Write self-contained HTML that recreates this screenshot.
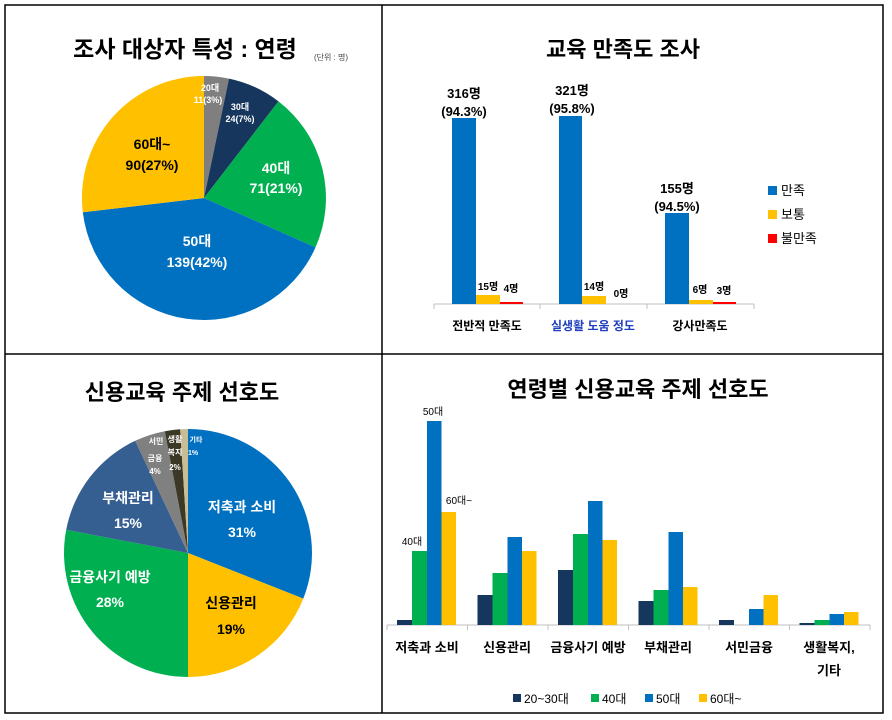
<!DOCTYPE html>
<html><head><meta charset="utf-8"><style>
body{margin:0;background:#fff;}
svg{display:block;font-family:"Liberation Sans","Noto Sans CJK KR",sans-serif;}
</style></head><body>
<svg width="892" height="720" viewBox="0 0 892 720">
<rect x="0" y="0" width="892" height="720" fill="#fff"/>
<rect x="5" y="5" width="878" height="708" fill="none" stroke="#000" stroke-width="1.5"/>
<line x1="382" y1="5" x2="382" y2="713" stroke="#000" stroke-width="1.5"/>
<line x1="5" y1="354" x2="883" y2="354" stroke="#000" stroke-width="1.5"/>

<!-- Chart 1 -->
<text x="185" y="57" font-size="23" font-weight="bold" text-anchor="middle">조사 대상자 특성 : 연령</text>
<text x="331" y="60" font-size="8" fill="#444" text-anchor="middle">(단위 : 명)</text>
<path d="M204,198 L204,76 A122,122 0 0 1 229,78.6 Z" fill="#7f7f7f"/>
<path d="M204,198 L229,78.6 A122,122 0 0 1 278.5,101.4 Z" fill="#17365d"/>
<path d="M204,198 L278.5,101.4 A122,122 0 0 1 315.5,247.4 Z" fill="#00b050"/>
<path d="M204,198 L315.5,247.4 A122,122 0 0 1 82.8,212.3 Z" fill="#0070c0"/>
<path d="M204,198 L82.8,212.3 A122,122 0 0 1 204,76 Z" fill="#ffc000"/>
<g fill="#fff" font-weight="bold" text-anchor="middle">
<text x="210" y="91" font-size="9">20대</text>
<text x="208" y="103" font-size="9">11(3%)</text>
<text x="240" y="110" font-size="9">30대</text>
<text x="240" y="122" font-size="9">24(7%)</text>
<text x="276" y="173" font-size="14">40대</text>
<text x="276" y="193" font-size="14">71(21%)</text>
<text x="197" y="246" font-size="14">50대</text>
<text x="197" y="267" font-size="14">139(42%)</text>
</g>
<g fill="#000" font-weight="bold" text-anchor="middle" font-size="14">
<text x="152" y="149">60대~</text>
<text x="152" y="170">90(27%)</text>
</g>

<!-- Chart 2 -->
<text x="623" y="57" font-size="22" font-weight="bold" text-anchor="middle">교육 만족도 조사</text>
<line x1="434" y1="304" x2="754" y2="304" stroke="#bfbfbf" stroke-width="1"/>
<g stroke="#bfbfbf"><line x1="434" y1="304" x2="434" y2="309"/><line x1="540" y1="304" x2="540" y2="309"/><line x1="647" y1="304" x2="647" y2="309"/><line x1="754" y1="304" x2="754" y2="309"/></g>
<rect x="452" y="118" width="24" height="186" fill="#0070c0"/>
<rect x="476" y="295" width="24" height="9" fill="#ffc000"/>
<rect x="500" y="302" width="23" height="2" fill="#ff0000"/>
<rect x="559" y="116" width="23" height="188" fill="#0070c0"/>
<rect x="582" y="296" width="24" height="8" fill="#ffc000"/>
<rect x="665" y="213" width="24" height="91" fill="#0070c0"/>
<rect x="689" y="300" width="24" height="4" fill="#ffc000"/>
<rect x="713" y="302" width="23" height="2" fill="#ff0000"/>
<g font-weight="bold" font-size="13" text-anchor="middle">
<text x="464" y="98">316명</text><text x="464" y="116">(94.3%)</text>
<text x="572" y="95">321명</text><text x="572" y="113">(95.8%)</text>
<text x="677" y="193">155명</text><text x="677" y="211">(94.5%)</text>
</g>
<g font-weight="bold" font-size="10" text-anchor="middle">
<text x="488" y="290">15명</text><text x="511" y="292">4명</text>
<text x="594" y="290">14명</text><text x="621" y="297">0명</text>
<text x="700" y="293">6명</text><text x="724" y="294">3명</text>
</g>
<g font-weight="bold" font-size="12" text-anchor="middle">
<text x="487" y="330">전반적 만족도</text>
<text x="593" y="330" fill="#1f3fbf">실생활 도움 정도</text>
<text x="700" y="330">강사만족도</text>
</g>
<rect x="768" y="186" width="9" height="9" fill="#0070c0"/>
<rect x="768" y="210" width="9" height="9" fill="#ffc000"/>
<rect x="768" y="234" width="9" height="9" fill="#ff0000"/>
<g font-size="13"><text x="781" y="195">만족</text><text x="781" y="219">보통</text><text x="781" y="243">불만족</text></g>

<!-- Chart 3 -->
<text x="182" y="400" font-size="22" font-weight="bold" text-anchor="middle">신용교육 주제 선호도</text>
<path d="M188,553 L188,429 A124,124 0 0 1 303.3,598.6 Z" fill="#0070c0"/>
<path d="M188,553 L303.3,598.6 A124,124 0 0 1 188,677 Z" fill="#ffc000"/>
<path d="M188,553 L188,677 A124,124 0 0 1 66.2,529.8 Z" fill="#00b050"/>
<path d="M188,553 L66.2,529.8 A124,124 0 0 1 135.2,440.8 Z" fill="#365f91"/>
<path d="M188,553 L135.2,440.8 A124,124 0 0 1 164.8,431.2 Z" fill="#808080"/>
<path d="M188,553 L164.8,431.2 A124,124 0 0 1 180.2,429.2 Z" fill="#3b3826"/>
<path d="M188,553 L180.2,429.2 A124,124 0 0 1 188,429 Z" fill="#c9bd95"/>
<g fill="#fff" font-weight="bold" text-anchor="middle">
<text x="242" y="512" font-size="14">저축과 소비</text>
<text x="242" y="537" font-size="14">31%</text>
<text x="110" y="582" font-size="14">금융사기 예방</text>
<text x="110" y="607" font-size="14">28%</text>
<text x="128" y="503" font-size="14">부채관리</text>
<text x="128" y="528" font-size="14">15%</text>
<text x="156" y="444" font-size="8">서민</text>
<text x="155" y="461" font-size="8">금융</text>
<text x="155" y="474" font-size="8">4%</text>
<text x="175" y="442" font-size="8">생활</text>
<text x="175" y="455" font-size="8">복지</text>
<text x="175" y="470" font-size="8">2%</text>
<text x="196" y="442" font-size="7">기타</text>
<text x="193" y="455" font-size="7">1%</text>
</g>
<g fill="#000" font-weight="bold" text-anchor="middle" font-size="14">
<text x="231" y="608">신용관리</text>
<text x="231" y="634">19%</text>
</g>

<!-- Chart 4 -->
<text x="638" y="397" font-size="22" font-weight="bold" text-anchor="middle">연령별 신용교육 주제 선호도</text>
<line x1="387" y1="625" x2="870" y2="625" stroke="#bfbfbf"/>
<g stroke="#bfbfbf">
<line x1="387" y1="625" x2="387" y2="630"/><line x1="467.5" y1="625" x2="467.5" y2="630"/><line x1="548" y1="625" x2="548" y2="630"/><line x1="628.5" y1="625" x2="628.5" y2="630"/><line x1="709" y1="625" x2="709" y2="630"/><line x1="789.5" y1="625" x2="789.5" y2="630"/><line x1="870" y1="625" x2="870" y2="630"/>
</g>
<g>
<rect x="397" y="620" width="15" height="5" fill="#17365d"/><rect x="412" y="551" width="15" height="74" fill="#00b050"/><rect x="427" y="421" width="14.5" height="204" fill="#0070c0"/><rect x="441.5" y="512" width="14.5" height="113" fill="#ffc000"/>
<rect x="477.5" y="595" width="15" height="30" fill="#17365d"/><rect x="492.5" y="573" width="15" height="52" fill="#00b050"/><rect x="507.5" y="537" width="14.5" height="88" fill="#0070c0"/><rect x="522" y="551" width="14.5" height="74" fill="#ffc000"/>
<rect x="558" y="570" width="15" height="55" fill="#17365d"/><rect x="573" y="534" width="15" height="91" fill="#00b050"/><rect x="588" y="501" width="14.5" height="124" fill="#0070c0"/><rect x="602.5" y="540" width="14.5" height="85" fill="#ffc000"/>
<rect x="638.5" y="601" width="15" height="24" fill="#17365d"/><rect x="653.5" y="590" width="15" height="35" fill="#00b050"/><rect x="668.5" y="532" width="14.5" height="93" fill="#0070c0"/><rect x="683" y="587" width="14.5" height="38" fill="#ffc000"/>
<rect x="719" y="620" width="15" height="5" fill="#17365d"/><rect x="749" y="609" width="14.5" height="16" fill="#0070c0"/><rect x="763.5" y="595" width="14.5" height="30" fill="#ffc000"/>
<rect x="799.5" y="623" width="15" height="2" fill="#17365d"/><rect x="814.5" y="620" width="15" height="5" fill="#00b050"/><rect x="829.5" y="614" width="14.5" height="11" fill="#0070c0"/><rect x="844" y="612" width="14.5" height="13" fill="#ffc000"/>
</g>
<g font-size="10">
<text x="433" y="415" text-anchor="middle">50대</text>
<text x="459" y="504" text-anchor="middle">60대~</text>
<text x="412" y="545" text-anchor="middle">40대</text>
</g>
<g font-weight="bold" font-size="13" text-anchor="middle">
<text x="427" y="652">저축과 소비</text>
<text x="507" y="652">신용관리</text>
<text x="588" y="652">금융사기 예방</text>
<text x="668" y="652">부채관리</text>
<text x="749" y="652">서민금융</text>
<text x="829" y="652">생활복지,</text>
<text x="829" y="675">기타</text>
</g>
<rect x="513" y="694" width="8" height="8" fill="#17365d"/>
<rect x="591" y="694" width="8" height="8" fill="#00b050"/>
<rect x="645" y="694" width="8" height="8" fill="#0070c0"/>
<rect x="699" y="694" width="8" height="8" fill="#ffc000"/>
<g font-size="12"><text x="524" y="703">20~30대</text><text x="602" y="703">40대</text><text x="656" y="703">50대</text><text x="710" y="703">60대~</text></g>
</svg>
</body></html>
